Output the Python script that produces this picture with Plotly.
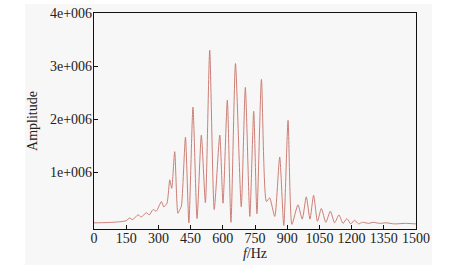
import plotly.graph_objects as go

# spectrum (frequency in Hz, amplitude in units of 1e6)
freq_hz = [0, 60, 120, 150, 166, 180, 205, 220, 244, 258, 275, 290, 314, 325, 340,
           353, 362, 376, 391, 400, 407, 426, 442, 461, 480, 500, 519, 539, 560,
           586, 601, 621, 638, 659, 686, 705, 726, 744, 759, 780, 803, 818, 842,
           865, 884, 904, 922, 950, 970, 989, 1006, 1023, 1041, 1059, 1080, 1101,
           1121, 1141, 1160, 1178, 1196, 1214, 1232, 1250, 1280, 1300, 1330, 1360,
           1400, 1450, 1500]
amp_e6 = [0.05, 0.055, 0.07, 0.09, 0.14, 0.11, 0.2, 0.16, 0.24, 0.2, 0.3, 0.27, 0.45, 0.35, 0.42,
          0.86, 0.7, 1.39, 0.23, 0.3, 0.36, 1.66, 0.05, 2.23, 0.13, 1.7, 0.43, 3.3, 0.3,
          1.7, 0.42, 2.36, 0.06, 3.05, 0.35, 2.6, 0.17, 2.15, 0.22, 2.75, 0.45, 0.52, 0.17,
          1.29, 0.0, 1.98, 0.02, 0.39, 0.12, 0.54, 0.12, 0.57, 0.08, 0.32, 0.06, 0.27,
          0.05, 0.2, 0.04, 0.13, 0.03, 0.1, 0.03, 0.06, 0.04, 0.06, 0.04, 0.05,
          0.03, 0.04, 0.03]

x_ticks = [0, 150, 300, 450, 600, 750, 900, 1050, 1200, 1350, 1500]
y_ticks = [1e6, 2e6, 3e6, 4e6]
y_tick_text = ["1e+006", "2e+006", "3e+006", "4e+006"]

amplitude = [a * 1e6 for a in amp_e6]

bg = "#f7f7f7"
font = dict(family="Liberation Serif", size=14, color="#222")

fig = go.Figure()
fig.add_trace(go.Scatter(x=freq_hz, y=amplitude, mode="lines",
                         line=dict(color="#cd7f76", width=1, shape="spline", smoothing=0.6),
                         showlegend=False, hoverinfo="skip"))

# light grey panel behind the whole chart
fig.add_shape(type="rect", xref="paper", yref="paper",
              x0=-0.2143, x1=1.0497, y0=-0.1667, y1=1.0417,
              fillcolor=bg, line=dict(width=0), layer="below")

fig.update_xaxes(range=[0, 1500], tickvals=x_ticks, ticks="inside", ticklen=4,
                 tickcolor="#111", showline=True, linecolor="#111", linewidth=1.3,
                 mirror=True, showgrid=False, zeroline=False, tickfont=font,
                 automargin=False, ticklabelstandoff=-4, ticklabeloverflow="allow",
                 title=dict(text="<i>f</i>/Hz", font=font, standoff=2))
fig.update_yaxes(range=[-0.066e6, 4e6], tickvals=y_ticks, ticktext=y_tick_text,
                 ticks="inside", ticklen=4, tickcolor="#111", showline=True,
                 linecolor="#111", linewidth=1.3, mirror=True, showgrid=False,
                 zeroline=False, tickfont=font, automargin=False,
                 ticklabelstandoff=-2, ticklabeloverflow="allow",
                 title=dict(text="Amplitude", font=font, standoff=9))

fig.update_layout(width=451, height=274, paper_bgcolor="white", plot_bgcolor=bg,
                  margin=dict(l=94, r=35, t=13, b=45), font=font)

# drop the default 8px body margin so the figure sits at the page corner
fig.write_html("out.html", config={"displayModeBar": False},
               post_script="document.body.style.margin='0';")
